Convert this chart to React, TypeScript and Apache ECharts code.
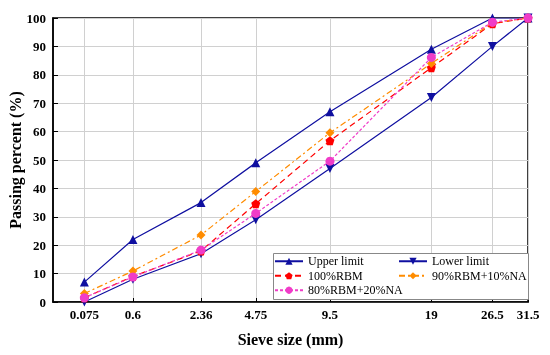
import React, { useEffect, useRef } from "react";
import * as echarts from "echarts";

const sieveSizes = [0.075, 0.6, 2.36, 4.75, 9.5, 19, 26.5, 31.5];
const sieveLabels = ["0.075", "0.6", "2.36", "4.75", "9.5", "19", "26.5", "31.5"];
const upperLimit = [7, 22, 35, 49, 67, 89, 100, 100];
const lowerLimit = [0, 8, 17, 29, 47, 72, 90, 100];
const rbm100 = [1.5, 9, 18, 34.6, 56.8, 82.5, 98, 100];
const rbm90na10 = [3, 10.9, 23.6, 38.9, 59.6, 84, 98.3, 100];
const rbm80na20 = [1.5, 8.8, 18.3, 31.2, 49.6, 86.1, 98.5, 100];
const yTicks = [0, 10, 20, 30, 40, 50, 60, 70, 80, 90, 100];

const POWER = 0.45;
const tx = (d: number) => Math.pow(d, POWER);

const FONT = "Liberation Serif";
const pentagon = "path://M0,-1 L0.951,-0.309 L0.588,0.809 L-0.588,0.809 L-0.951,-0.309 Z";

export default function App() {
  const ref = useRef<HTMLDivElement>(null);
  useEffect(() => {
    if (!ref.current) return;
    const chart = echarts.init(ref.current, null, { renderer: "svg" });
    const tVals = sieveSizes.map(tx);
    const mk = (vals: number[]) => sieveSizes.map((s, i) => [tx(s), vals[i]]);
    const labelFor = (v: number) => {
      const i = tVals.findIndex((t) => Math.abs(t - v) < 1e-6);
      return i >= 0 ? sieveLabels[i] : "";
    };
    const blue = "#0f0fa0";
    const legendText = { fontFamily: FONT, fontSize: 12, color: "#000", lineHeight: 12.5 };
    const legendCommon = {
      orient: "vertical",
      top: 255,
      padding: 0,
      itemGap: 2,
      itemWidth: 28,
      itemHeight: 9,
      textStyle: legendText,
    };
    chart.setOption({
      animation: false,
      grid: {
        left: 53,
        right: 22,
        top: 18,
        bottom: 53,
        outerBoundsMode: "none",
        containLabel: false,
        show: true,
        borderColor: "#000",
        borderWidth: 1.5,
        backgroundColor: "transparent",
      },
      graphic: [
        {
          type: "rect",
          left: 273,
          top: 253,
          shape: { width: 255, height: 46 },
          style: { fill: "#fff", stroke: "#888", lineWidth: 1 },
          z: 6,
        },
      ],
      legend: [
        { ...legendCommon, left: 274, data: ["Upper limit", "100%RBM", "80%RBM+20%NA"], z: 10 },
        { ...legendCommon, left: 398, data: ["Lower limit", "90%RBM+10%NA"], z: 10 },
      ],
      xAxis: {
        type: "value",
        min: 0,
        max: tx(31.5),
        name: "Sieve size (mm)",
        nameLocation: "middle",
        nameGap: 29,
        nameTextStyle: { fontFamily: FONT, fontSize: 16, fontWeight: "bold", color: "#000" },
        axisLine: { lineStyle: { color: "#000", width: 1.5 } },
        axisTick: { inside: true, length: 4, customValues: tVals, lineStyle: { color: "#000" } },
        axisLabel: {
          customValues: tVals,
          formatter: (v: number) => labelFor(v),
          fontFamily: FONT,
          fontSize: 13,
          fontWeight: "bold",
          color: "#000",
          margin: 6,
        },
        splitLine: { show: true, lineStyle: { color: "#d0d0d0", width: 1 } },
      },
      yAxis: {
        type: "value",
        min: 0,
        max: 100,
        interval: 10,
        name: "Passing percent (%)",
        nameLocation: "middle",
        nameMoveOverlap: false,
        nameGap: 30,
        nameTextStyle: { fontFamily: FONT, fontSize: 16, fontWeight: "bold", color: "#000" },
        axisLine: { show: true, lineStyle: { color: "#000", width: 1.5 } },
        axisTick: { show: true, inside: true, length: 5, lineStyle: { color: "#000" } },
        axisLabel: {
          formatter: (v: number) => (yTicks.includes(v) ? String(v) : ""),
          fontFamily: FONT,
          fontSize: 13,
          fontWeight: "bold",
          color: "#000",
          margin: 7,
        },
        splitLine: { show: true, lineStyle: { color: "#d0d0d0", width: 1 } },
      },
      series: [
        {
          name: "Upper limit",
          type: "line",
          data: mk(upperLimit),
          symbol: "triangle",
          symbolSize: 9,
          lineStyle: { color: blue, width: 1.2 },
          itemStyle: { color: blue },
          z: 3,
        },
        {
          name: "Lower limit",
          type: "line",
          data: mk(lowerLimit),
          symbol: "triangle",
          symbolRotate: 180,
          symbolSize: 9,
          lineStyle: { color: blue, width: 1.2 },
          itemStyle: { color: blue },
          z: 3,
        },
        {
          name: "100%RBM",
          type: "line",
          data: mk(rbm100),
          symbol: pentagon,
          symbolSize: 9,
          lineStyle: { color: "#ff0000", width: 1.2, type: [6, 4] },
          itemStyle: { color: "#ff0000" },
          z: 4,
        },
        {
          name: "90%RBM+10%NA",
          type: "line",
          data: mk(rbm90na10),
          symbol: "diamond",
          symbolSize: 9,
          lineStyle: { color: "#ff8c00", width: 1.2, type: [6, 3, 2, 3] },
          itemStyle: { color: "#ff8c00" },
          z: 4,
        },
        {
          name: "80%RBM+20%NA",
          type: "line",
          data: mk(rbm80na20),
          symbol: "circle",
          symbolSize: 9,
          lineStyle: { color: "#f03cc8", width: 1.2, type: [3, 2] },
          itemStyle: { color: "#f03cc8" },
          z: 5,
        },
      ],
    });
    return () => chart.dispose();
  }, []);
  return <div ref={ref} style={{ position: "fixed", left: 0, top: 0, width: 550, height: 355 }} />;
}
